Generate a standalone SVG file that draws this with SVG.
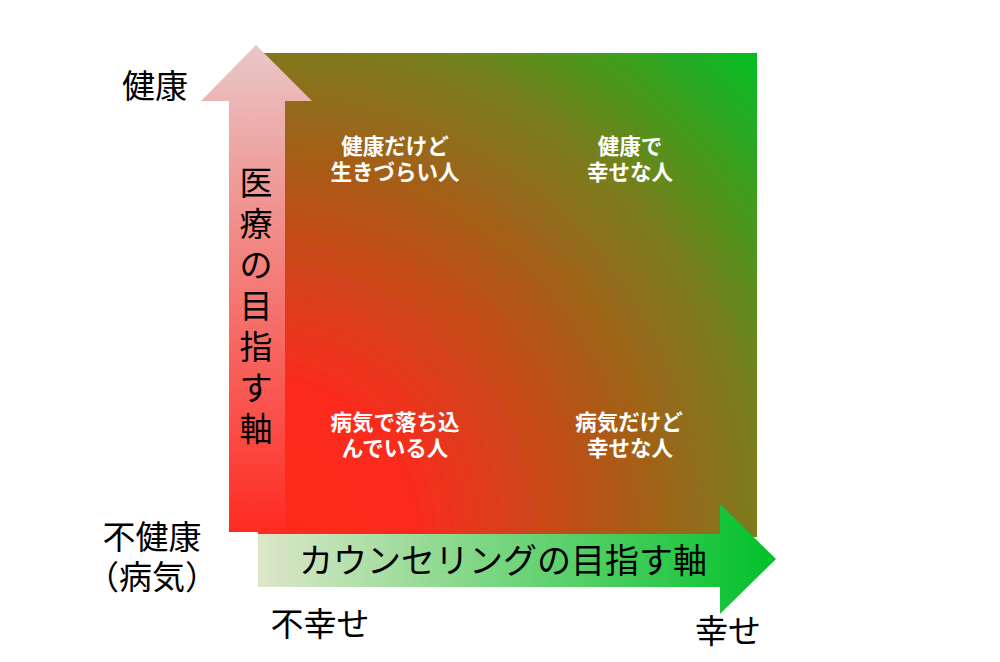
<svg xmlns="http://www.w3.org/2000/svg" width="1000" height="662" viewBox="0 0 1000 662">
  <style>
    .lbl { font-family: "Noto Sans CJK JP", "Noto Sans", sans-serif; fill: #000; font-size: 33px; text-anchor: middle; }
    .q { font-family: "Noto Sans CJK JP", "Noto Sans", sans-serif; fill: #fff; font-size: 21.5px; font-weight: bold; text-anchor: middle; }
    .ax { font-family: "Noto Sans CJK JP", "Noto Sans", sans-serif; fill: #000; font-size: 33px; text-anchor: middle; }
  </style>
  <defs>
    <radialGradient id="gQuad" gradientUnits="userSpaceOnUse" cx="258" cy="537" r="700">
      <stop offset="0" stop-color="#ff2a1e"/>
      <stop offset="0.22" stop-color="#fc2a1d"/>
      <stop offset="0.5" stop-color="#b25618"/>
      <stop offset="0.72" stop-color="#7a7d1c"/>
      <stop offset="1" stop-color="#00c022"/>
    </radialGradient>
    <linearGradient id="gVert" gradientUnits="userSpaceOnUse" x1="0" y1="45" x2="0" y2="532">
      <stop offset="0" stop-color="#e9c7c7"/>
      <stop offset="1" stop-color="#ff2b22"/>
    </linearGradient>
    <linearGradient id="gHorz" gradientUnits="userSpaceOnUse" x1="258" y1="0" x2="776" y2="0">
      <stop offset="0" stop-color="#dee7ca"/>
      <stop offset="1" stop-color="#00c12a"/>
    </linearGradient>
    <filter id="soft" x="-2%" y="-2%" width="104%" height="104%">
      <feGaussianBlur stdDeviation="0.7"/>
    </filter>
  </defs>

  <g id="quadrant-field">
    <rect x="258" y="53" width="499" height="484" fill="url(#gQuad)" filter="url(#soft)"/>
  </g>

  <g id="connectors">
    <g id="axis-medical">
      <polygon points="256,45 312,101 285,101 285,532 229,532 229,101 201,101" fill="url(#gVert)"/>
      <text class="ax" x="256" y="194.5">医</text>
      <text class="ax" x="256" y="235.5">療</text>
      <text class="ax" x="256" y="276.5">の</text>
      <text class="ax" x="256" y="317.5">目</text>
      <text class="ax" x="256" y="358.5">指</text>
      <text class="ax" x="256" y="399.5">す</text>
      <text class="ax" x="256" y="440.5">軸</text>
    </g>
    <g id="axis-counseling">
      <polygon points="258,534 720,534 720,504 776,559 720,614 720,587 258,587" fill="url(#gHorz)"/>
      <text class="ax" x="503" y="573" style="font-size:34px">カウンセリングの目指す軸</text>
    </g>
  </g>

  <g id="q-top-left">
    <text class="q" x="395" y="153.5">健康だけど</text>
    <text class="q" x="395" y="180">生きづらい人</text>
  </g>
  <g id="q-top-right">
    <text class="q" x="630" y="153.5">健康で</text>
    <text class="q" x="630" y="180">幸せな人</text>
  </g>
  <g id="q-bottom-left">
    <text class="q" x="395" y="430">病気で落ち込</text>
    <text class="q" x="395" y="456">んでいる人</text>
  </g>
  <g id="q-bottom-right">
    <text class="q" x="629" y="430">病気だけど</text>
    <text class="q" x="630" y="456">幸せな人</text>
  </g>

  <g id="label-healthy">
    <text class="lbl" x="155" y="98">健康</text>
  </g>
  <g id="label-unhealthy">
    <text class="lbl" x="152" y="549">不健康</text>
    <text class="lbl" x="152" y="589">（病気）</text>
  </g>
  <g id="label-unhappy">
    <text class="lbl" x="320" y="636">不幸せ</text>
  </g>
  <g id="label-happy">
    <text class="lbl" x="728" y="643">幸せ</text>
  </g>
</svg>
